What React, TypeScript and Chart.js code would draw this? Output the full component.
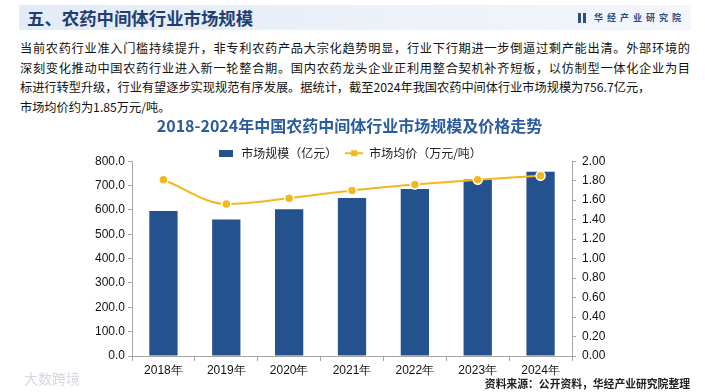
import React, { useEffect, useRef } from "react";
import { Chart, registerables } from "chart.js";

Chart.register(...registerables);

const years = ["2018年", "2019年", "2020年", "2021年", "2022年", "2023年", "2024年"];
const marketSize = [595, 561, 603, 649, 686, 725, 756.7];
const avgPrice = [1.81, 1.56, 1.62, 1.7, 1.76, 1.81, 1.85];
const seriesNames = ["市场规模（亿元）", "市场均价（万元/吨）"];
const chartTitle = "2018-2024年中国农药中间体行业市场规模及价格走势";
const pageTitle = "五、农药中间体行业市场规模";
const brand = "华经产业研究院";
const paragraphLines = [
  "当前农药行业准入门槛持续提升，非专利农药产品大宗化趋势明显，行业下行期进一步倒逼过剩产能出清。外部环境的",
  "深刻变化推动中国农药行业进入新一轮整合期。国内农药龙头企业正利用整合契机补齐短板，以仿制型一体化企业为目",
  "标进行转型升级，行业有望逐步实现规范有序发展。据统计，截至2024年我国农药中间体行业市场规模为756.7亿元，",
  "市场均价约为1.85万元/吨。",
];
const sourceNote = "资料来源：公开资料，华经产业研究院整理";
const watermark = "大数跨境";

const BAR = "#24528F";
const GOLD = "#F2B91C";
const CJK = '"Noto Sans CJK SC", "Noto Sans", sans-serif';
const LAT = '"Liberation Sans", Arial, sans-serif';

function makeBarIcon() {
  const c = document.createElement("canvas");
  c.width = 14;
  c.height = 7;
  const g = c.getContext("2d")!;
  g.fillStyle = BAR;
  g.fillRect(0, 0, 14, 7);
  return c;
}
function makeLineIcon() {
  const c = document.createElement("canvas");
  c.width = 18;
  c.height = 8;
  const g = c.getContext("2d")!;
  g.strokeStyle = GOLD;
  g.lineWidth = 2;
  g.beginPath();
  g.moveTo(0, 4);
  g.lineTo(18, 4);
  g.stroke();
  g.fillStyle = GOLD;
  g.fillRect(6, 1, 6, 6);
  return c;
}

const legendShrink = {
  id: "legendShrink",
  beforeLayout(chart: any) {
    const lg = chart.legend;
    if (lg && !lg._shrunk) {
      const f = lg.fit;
      lg.fit = function () {
        f.call(this);
        this.height = Math.max(0, this.height - 8);
      };
      lg._shrunk = true;
    }
  },
};

export default function App() {
  const ref = useRef<HTMLCanvasElement | null>(null);
  useEffect(() => {
    if (!ref.current) return;
    const barIcon = makeBarIcon();
    const lineIcon = makeLineIcon();
    const chart = new Chart(ref.current, {
      data: {
        labels: years,
        datasets: [
          {
            type: "line",
            label: seriesNames[1],
            data: avgPrice,
            yAxisID: "y1",
            borderColor: GOLD,
            backgroundColor: GOLD,
            borderWidth: 2,
            tension: 0.4,
            cubicInterpolationMode: "monotone",
            pointRadius: 4.5,
            pointBackgroundColor: GOLD,
            pointBorderColor: "#FFFFFF",
            pointBorderWidth: 1.5,
            order: 0,
          },
          {
            type: "bar",
            label: seriesNames[0],
            data: marketSize,
            yAxisID: "y",
            backgroundColor: BAR,
            categoryPercentage: 0.9,
            barPercentage: 0.5,
            order: 1,
          },
        ],
      },
      plugins: [legendShrink],
      options: {
        responsive: false,
        animation: false,
        maintainAspectRatio: false,
        layout: { padding: { left: 82, right: 88, top: 0, bottom: 10 } },
        plugins: {
          title: {
            display: true,
            text: chartTitle,
            color: "#2B5C9C",
            font: { family: CJK, size: 16, weight: "bold" },
            padding: { top: 4, bottom: 4 },
          },
          legend: {
            display: true,
            reverse: true,
            labels: {
              usePointStyle: true,
              pointStyleWidth: 18,
              padding: 8,
              color: "#222",
              font: { family: CJK, size: 12 },
              generateLabels: (ch: any) => {
                const base = Chart.defaults.plugins.legend.labels.generateLabels(ch);
                return base.map((it: any) => ({
                  ...it,
                  pointStyle: it.datasetIndex === 1 ? barIcon : lineIcon,
                  lineWidth: 0,
                }));
              },
            },
          },
          tooltip: { enabled: false },
        },
        scales: {
          x: {
            grid: {
              display: true,
              drawOnChartArea: false,
              drawTicks: true,
              tickLength: 5,
              color: "#A6A6A6",
              offset: true,
            },
            border: { color: "#A6A6A6" },
            ticks: { color: "#111", font: { family: LAT, size: 12 }, padding: 2 },
            afterFit: (s: any) => {
              s.height = 26;
            },
          },
          y: {
            position: "left",
            min: 0,
            max: 800,
            grid: { display: true, drawOnChartArea: false, drawTicks: true, tickLength: 4, color: "#A6A6A6" },
            border: { color: "#A6A6A6" },
            ticks: {
              stepSize: 100,
              color: "#111",
              font: { family: LAT, size: 12 },
              padding: 3,
              callback: (v: any) => Number(v).toFixed(1),
            },
            afterFit: (s: any) => {
              s.width = 50;
            },
          },
          y1: {
            position: "right",
            min: 0,
            max: 2,
            grid: { display: true, drawOnChartArea: false, drawTicks: true, tickLength: 4, color: "#A6A6A6" },
            border: { color: "#A6A6A6" },
            ticks: {
              stepSize: 0.2,
              color: "#111",
              font: { family: LAT, size: 12 },
              padding: 6,
              callback: (v: any) => Number(v).toFixed(2),
            },
            afterFit: (s: any) => {
              s.width = 45;
            },
          },
        },
      } as any,
    });
    return () => chart.destroy();
  }, []);

  return (
    <div
      style={{
        position: "fixed",
        left: 0,
        top: 0,
        width: 705,
        height: 392,
        background: "#FFFFFF",
        overflow: "hidden",
        fontFamily: CJK,
      }}
    >
      <div
        style={{
          position: "absolute",
          left: 19,
          top: 5,
          width: 672,
          height: 25,
          background: "linear-gradient(90deg, #E3EBF7 0%, #EDF2FA 60%, #F3F6FC 100%)",
        }}
      />
      <div
        style={{
          position: "absolute",
          left: 27,
          top: 5,
          height: 25,
          lineHeight: "25px",
          fontSize: 17.4,
          fontWeight: 700,
          color: "#1F3F73",
        }}
      >
        {pageTitle}
      </div>
      <div
        style={{
          position: "absolute",
          left: 578,
          top: 13,
          width: 8,
          height: 10,
          borderLeft: "3px solid #2B4F86",
          borderRight: "3px solid #2B4F86",
          boxSizing: "border-box",
        }}
      />
      <div
        style={{
          position: "absolute",
          left: 594,
          top: 9,
          height: 18,
          lineHeight: "18px",
          fontSize: 9,
          fontWeight: 700,
          letterSpacing: 4,
          color: "#2B4F86",
        }}
      >
        {brand}
      </div>
      {paragraphLines.map((line, i) => (
        <div
          key={i}
          style={{
            position: "absolute",
            left: 20,
            top: 38 + i * 19.6,
            width: 670,
            height: 20,
            lineHeight: "20px",
            fontSize: 12.2,
            color: "#111",
            whiteSpace: "nowrap",
            textAlign: i < 2 ? "justify" : "left",
            textAlignLast: i < 2 ? "justify" : "left",
          }}
        >
          {line}
        </div>
      ))}
      <canvas
        ref={ref}
        width={705}
        height={280}
        style={{ position: "absolute", left: 0, top: 112, width: 705, height: 280 }}
      />
      <div
        style={{
          position: "absolute",
          left: 24,
          top: 369,
          lineHeight: "18px",
          fontSize: 14,
          color: "rgba(160,170,185,0.45)",
        }}
      >
        {watermark}
      </div>
      <div
        style={{
          position: "absolute",
          right: 15,
          top: 375,
          lineHeight: "16px",
          fontSize: 10.8,
          fontWeight: 700,
          color: "#222",
        }}
      >
        {sourceNote}
      </div>
    </div>
  );
}
